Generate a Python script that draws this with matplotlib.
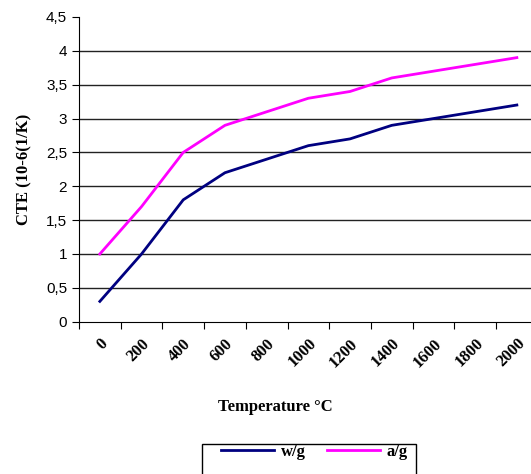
import numpy as np
import matplotlib.pyplot as plt
from matplotlib.patches import Rectangle

# data
temps = ['0', '200', '400', '600', '800', '1000', '1200', '1400', '1600', '1800', '2000']
wg = [0.3, 1.0, 1.8, 2.2, 2.4, 2.6, 2.7, 2.9, 3.0, 3.1, 3.2]
ag = [1.0, 1.7, 2.5, 2.9, 3.1, 3.3, 3.4, 3.6, 3.7, 3.8, 3.9]

W, H = 531, 474
fig = plt.figure(figsize=(W / 100, H / 100), dpi=100)
ax = fig.add_axes([79 / W, 152.3 / H, 458.7 / W, 304.7 / H])

x = np.arange(len(temps))
l1, = ax.plot(x, wg, color='#000080', lw=2, label='w/g')
l2, = ax.plot(x, ag, color='#FF00FF', lw=2, label='a/g')

ax.set_xlim(-0.5, len(temps) - 0.5)
ax.set_ylim(0, 4.5)
yt = np.arange(0, 4.51, 0.5)
ax.set_yticks(yt)
ax.set_yticklabels([('%g' % v).replace('.', ',') for v in yt], fontsize=11,
                   family='Liberation Sans')
for v in yt[1:-1]:
    ax.axhline(v, color='#222222', lw=1, zorder=0)

ax.set_xticks(np.arange(-0.5, len(temps), 1), minor=False)
ax.set_xticklabels([])
ax.set_xticks(x, minor=True)
ax.set_xticklabels(temps, minor=True, rotation=45, ha='right', va='top',
                   rotation_mode='anchor', fontsize=12, fontweight='bold',
                   family='Liberation Serif')
ax.tick_params(axis='x', which='minor', length=0, pad=10)
ax.tick_params(axis='x', which='major', length=5, direction='out')
ax.tick_params(axis='y', length=5, direction='out')

for s in ['top', 'right']:
    ax.spines[s].set_visible(False)
ax.spines['left'].set_color('black')
ax.spines['bottom'].set_color('black')

ax.set_ylabel('CTE (10-6(1/K)', fontsize=12, fontweight='bold',
              family='Liberation Serif', labelpad=10)
fig.text(275 / W, 1 - 407 / H, 'Temperature °C', ha='center', va='center',
         fontsize=12, fontweight='bold', family='Liberation Serif')

# legend box (runs off the bottom edge like the original)
fig.patches.append(Rectangle((201.7 / W, -0.05), 214 / W, 0.05 + 1 - 444 / H,
                             transform=fig.transFigure, fill=False,
                             edgecolor='black', lw=1))
leg = fig.legend(handles=[l1, l2], loc='center left',
                 bbox_to_anchor=(221 / W, 1 - 452 / H), ncol=2,
                 frameon=False,
                 prop={'family': 'Liberation Serif', 'weight': 'bold', 'size': 12},
                 handlelength=3.2, handletextpad=0.4, columnspacing=1.25,
                 borderpad=0, borderaxespad=0)

fig.savefig('out.png', dpi=100)
